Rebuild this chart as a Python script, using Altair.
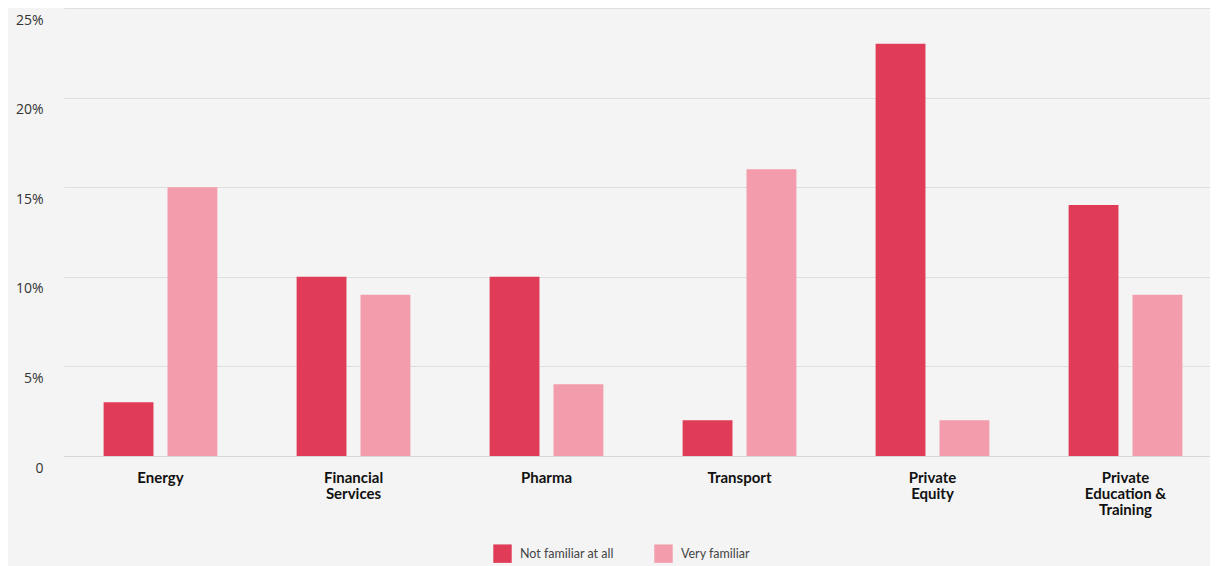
import altair as alt
import pandas as pd

categories = ["Energy", "Financial|Services", "Pharma", "Transport", "Private|Equity", "Private|Education &|Training"]
not_familiar = [3, 10, 10, 2, 23, 14]
very_familiar = [15, 9, 4, 16, 2, 9]
series = ["Not familiar at all", "Very familiar"]
colors = ["#e03c58", "#f39cab"]

rows = []
for c, a, b in zip(categories, not_familiar, very_familiar):
    rows.append({"category": c, "series": series[0], "value": a / 100})
    rows.append({"category": c, "series": series[1], "value": b / 100})
df = pd.DataFrame(rows)

chart = alt.Chart(df).mark_bar().encode(
    x=alt.X("category:N", sort=categories, title=None,
            scale=alt.Scale(paddingInner=0, paddingOuter=0, range=[3, 1161]),
            axis=alt.Axis(labelExpr="split(datum.label, '|')", labelAngle=0,
                          labelFont="Lato", labelFontWeight="bold", labelFontSize=15,
                          labelColor="#111111", labelLineHeight=16, labelPadding=14,
                          ticks=False, domain=True, domainColor="#d6d6d6", grid=False,
                          labelBaseline="top")),
    xOffset=alt.XOffset("series:N", sort=series,
                        scale=alt.Scale(paddingInner=0.22, paddingOuter=0.62)),
    y=alt.Y("value:Q", title=None,
            scale=alt.Scale(domain=[0, 0.25]),
            axis=alt.Axis(values=[0, 0.05, 0.10, 0.15, 0.20, 0.25],
                          labelExpr="datum.value == 0 ? '0' : format(datum.value, '.0%')",
                          labelFont="Open Sans", labelFontSize=14, labelColor="#333333",
                          labelBaseline="top", labelOffset=5, labelPadding=18,
                          ticks=False, domain=False, gridColor="#dedede", gridWidth=1)),
    color=alt.Color("series:N", sort=series,
                    scale=alt.Scale(domain=series, range=colors),
                    legend=alt.Legend(title=None, orient="none", direction="horizontal",
                                      legendX=432, legendY=536,
                                      symbolType="square", symbolSize=340, symbolStrokeWidth=0,
                                      labelFont="Lato", labelFontSize=12.5, labelColor="#444444",
                                      columnPadding=40, labelOffset=8)),
).properties(
    width=1161, height=448,
    autosize=alt.AutoSizeParams(type="none"),
    padding={"left": 53, "top": 0, "right": -12, "bottom": 110},
    background="#f4f4f4",
).configure_view(stroke=None)

chart.save("out.html", embed_options={"renderer": "svg", "actions": False})
